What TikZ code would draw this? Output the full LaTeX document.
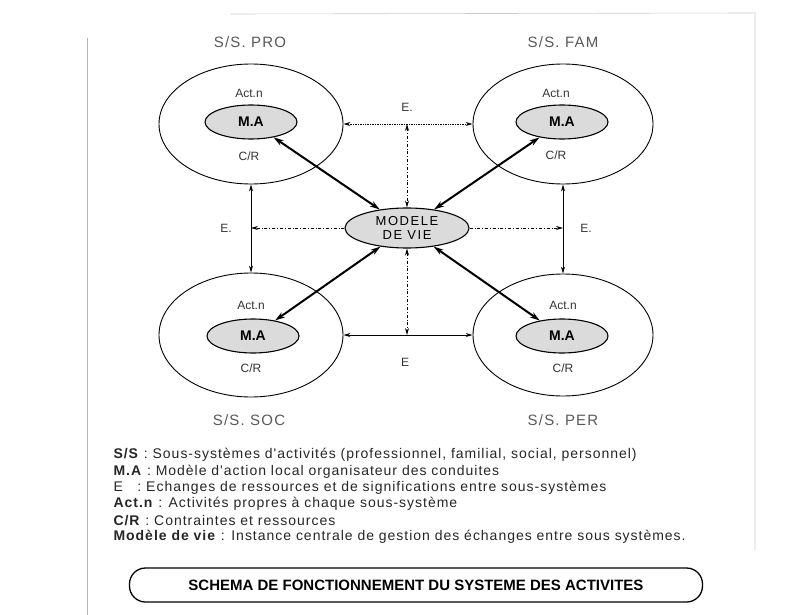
\documentclass[tikz,border=0pt]{standalone}
\usepackage{fontspec}
\setmainfont{Liberation Sans}
\newfontfamily\fontleg[LetterSpace=7]{Liberation Sans}
\newfontfamily\fontlarge[LetterSpace=8]{Liberation Sans}
\newfontfamily\fontmdv[LetterSpace=12]{Liberation Sans}
\usetikzlibrary{shapes.geometric,arrows.meta}
\tikzset{
	sousys/.style={draw,ellipse,inner sep=0pt,minimum width=184pt,minimum height=120pt,line width=.9pt},
	modac/.style={draw,ellipse,fill=gray!28,inner sep=0pt,minimum width=92pt,minimum height=34pt,line width=1.1pt,font=\fontsize{14}{14}\selectfont\bfseries},
	lbl/.style={font=\fontsize{12}{12}\selectfont,text=black!80},
	titre/.style={font=\fontlarge\fontsize{15}{15}\selectfont,text=black!65},
	legende/.style={anchor=west,font=\fontleg\fontsize{14}{14}\selectfont,text=black!85},
	echange/.style={{Stealth[length=7pt,width=4pt]}-{Stealth[length=7pt,width=4pt]},line width=.7pt},
	fort/.style={{Stealth[length=10pt,width=6pt]}-{Stealth[length=10pt,width=6pt]},line width=2pt}
}
\begin{document}
\begin{tikzpicture}[x=1pt,y=-1pt]
	\useasboundingbox (0,0) rectangle (803,615);
	% cadre
	\draw[gray!60,line width=.8pt](87,38)--(87,615);
	\draw[gray!40,line width=.6pt](230,14)--(755,13)--(755,550);
	% sous-systemes
	\node[sousys](pro) at (251,124){};
	\node[sousys,minimum width=180pt](fam) at (563,124){};
	\node[sousys,minimum height=124pt](soc) at (251,335){};
	\node[sousys,minimum width=180pt,minimum height=122pt](per) at (563,335){};
	\node[modac](mapro) at (251,122){M.A};
	\node[modac](mafam) at (562,122){M.A};
	\node[modac](masoc) at (253,336){M.A};
	\node[modac](maper) at (562,336){M.A};
	\foreach \n/\x/\ya/\yc in {pro/249/93/156,fam/556/93/155,soc/251/305/368,per/563/305/368}{
		\node[lbl] (act\n) at (\x,\ya) {Act.n};
		\node[lbl] (cr\n) at (\x,\yc) {C/R};
	}
	\node[titre](tpro) at (250,42){S/S. PRO};
	\node[titre](tfam) at (563,42){S/S. FAM};
	\node[titre](tsoc) at (249,420){S/S. SOC};
	\node[titre](tper) at (563,420){S/S. PER};
	% modele de vie
	\node[draw,ellipse,fill=gray!28,inner sep=0pt,minimum width=124pt,minimum height=40pt,line width=1.1pt,align=center,
		font=\fontmdv\fontsize{13}{14}\selectfont](mdv) at (407,228){MODELE\\DE VIE};
	\coordinate (hmid) at (mdv.north |- pro.east);
	\coordinate (bmid) at (mdv.south |- soc.east);
	\coordinate (gmid) at (pro.south |- mdv.west);
	\coordinate (dmid) at (fam.south |- mdv.east);
	% echanges
	\draw[echange,densely dotted](pro.east)--(fam.west);
	\draw[echange](soc.east)--(per.west);
	\draw[echange](pro.south)--(soc.north);
	\draw[echange](fam.south)--(per.north);
	\draw[echange,dash dot](hmid)--(mdv.north);
	\draw[echange,dash dot](mdv.south)--(bmid);
	\draw[-{Stealth[length=7pt,width=4pt]},line width=.7pt,dash dot](mdv.west)--(gmid);
	\draw[-{Stealth[length=7pt,width=4pt]},line width=.7pt,dash dot](mdv.east)--(dmid);
	\node[lbl](ehaut) at (407,107){E.};
	\node[lbl](ebas) at (405,362){E};
	\node[lbl](egau) at (226,228){E.};
	\node[lbl](edro) at (586,228){E.};
	% liens vers le modele de vie
	\draw[fort](mapro)--(mdv);
	\draw[fort](mafam)--(mdv);
	\draw[fort](masoc)--(mdv);
	\draw[fort](maper)--(mdv);
	% legende
	\node[legende](l1) at (110,455){\textbf{S/S} : Sous-systèmes d'activités (professionnel, familial, social, personnel)};
	\node[legende](l2) at (110,472){\textbf{M.A} : Modèle d'action local organisateur des conduites};
	\node[legende](l3) at (110,488){E \ \ : Echanges de ressources et de significations entre sous-systèmes};
	\node[legende](l4) at (110,504){\textbf{Act.n} : Activités propres à chaque sous-système};
	\node[legende](l5) at (110,521){\textbf{C/R} : Contraintes et ressources};
	\node[legende](l6) at (110,537){\textbf{Modèle de vie} : Instance centrale de gestion des échanges entre sous systèmes.};
	% titre
	\node[draw,rounded corners=16pt,line width=1.3pt,minimum width=573pt,minimum height=34pt,
		font=\fontsize{15}{15}\selectfont\bfseries](cap) at (416,585){SCHEMA DE FONCTIONNEMENT DU SYSTEME DES ACTIVITES};
\end{tikzpicture}
\end{document}
